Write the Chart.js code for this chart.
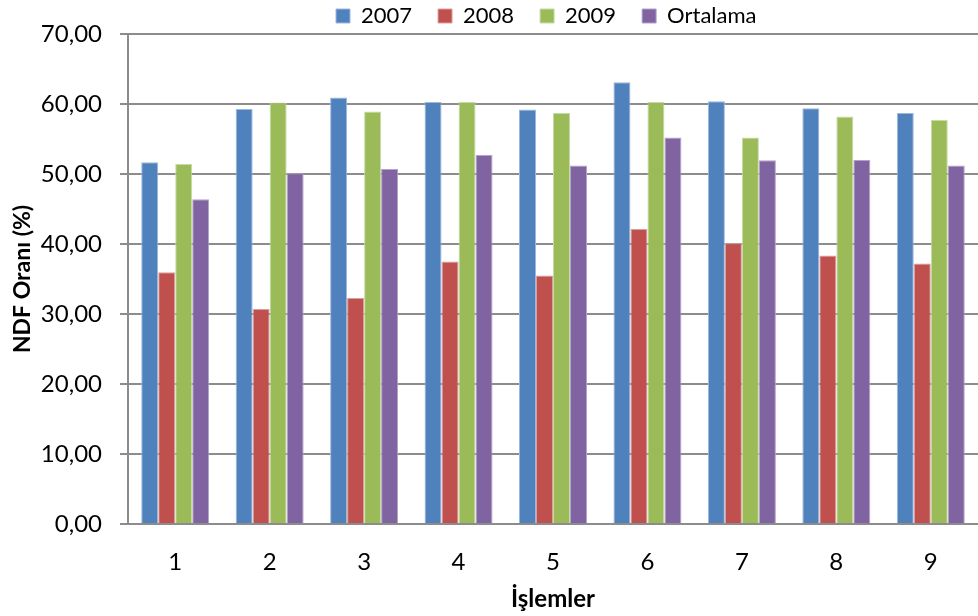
<!DOCTYPE html>
<html>
<head>
<meta charset="utf-8">
<script src="https://cdn.jsdelivr.net/npm/chart.js@4/dist/chart.umd.min.js"></script>
<style>
  html, body { margin: 0; padding: 0; background: #ffffff; }
  #wrap { width: 978px; height: 616px; }
</style>
</head>
<body>
<div id="wrap"><canvas id="c" width="978" height="616"></canvas></div>
<script>
// Treatments (işlemler) 1..9
const categories = ['1', '2', '3', '4', '5', '6', '7', '8', '9'];

// NDF ratio (%) per year and the mean
const ndf2007 = [51.67, 59.30, 60.94, 60.30, 59.20, 63.10, 60.40, 59.40, 58.70];
const ndf2008 = [35.98, 30.70, 32.27, 37.50, 35.50, 42.15, 40.10, 38.35, 37.20];
const ndf2009 = [51.43, 60.20, 58.94, 60.30, 58.70, 60.30, 55.20, 58.20, 57.70];
const ortalama = [46.39, 50.10, 50.71, 52.70, 51.20, 55.20, 51.95, 52.00, 51.20];

const seriesNames = ['2007', '2008', '2009', 'Ortalama'];
const yTicks = [0, 10, 20, 30, 40, 50, 60, 70];

const FONT = 'Lato, "Open Sans", "Liberation Sans", sans-serif';
const GRID = '#8c8c8c';

const fills = ['#4F81BD', '#C0504D', '#9BBB59', '#8064A2'];
const edges = ['#9db8dc', '#dba09e', '#c6dba4', '#b3a2c9'];

const seriesValues = [ndf2007, ndf2008, ndf2009, ortalama];

// Keeps the legend strip a fixed height and places it above the plot
const legendPlacement = {
  id: 'legendPlacement',
  beforeLayout(chart) {
    const lg = chart.legend;
    if (lg && !lg._fixedFit) {
      const fit = lg.fit.bind(lg);
      lg.fit = function () { fit(); this.height = 34; };
      lg._fixedFit = true;
    }
  },
  beforeDraw(chart) {
    const lg = chart.legend;
    if (!lg || !lg.lineWidths) return;
    const pad = lg.options.labels.padding;
    const lw = lg.lineWidths[0];
    const firstX = 336;
    const L = (2 * firstX - 978 - pad + lw) / 2;
    lg.left = L;
    lg.right = L + 978;
    lg.top = -21;
  }
};

new Chart(document.getElementById('c'), {
  type: 'bar',
  data: {
    labels: categories,
    datasets: seriesNames.map((name, i) => ({
      label: name,
      data: seriesValues[i],
      backgroundColor: fills[i],
      borderColor: edges[i],
      borderWidth: 1,
      categoryPercentage: 0.72,
      barPercentage: 1.0
    }))
  },
  options: {
    responsive: false,
    animation: false,
    devicePixelRatio: 1,
    layout: { padding: 0 },
    plugins: {
      legend: {
        position: 'top',
        labels: {
          boxWidth: 14,
          boxHeight: 14,
          padding: 26,
          color: '#000000',
          font: { family: FONT, size: 22 }
        }
      },
      tooltip: { enabled: false }
    },
    scales: {
      x: {
        offset: true,
        grid: { display: false, drawTicks: false },
        border: { display: false },
        ticks: {
          color: '#000000',
          padding: 24,
          font: { family: FONT, size: 24 }
        },
        title: {
          display: true,
          text: 'İşlemler',
          color: '#000000',
          padding: { top: 0, bottom: 2 },
          font: { family: FONT, size: 24, weight: 'bold' }
        },
        afterFit(scale) { scale.height = 92; }
      },
      y: {
        min: 0,
        max: 70,
        afterBuildTicks(scale) { scale.ticks = yTicks.map(v => ({ value: v })); },
        grid: {
          color: GRID,
          lineWidth: 2,
          drawTicks: true,
          tickLength: 8
        },
        border: { display: true, color: GRID, width: 2 },
        ticks: {
          color: '#000000',
          padding: 18,
          font: { family: FONT, size: 24 }
        ,
          callback: v => v.toFixed(2).replace('.', ',')
        },
        title: {
          display: true,
          text: 'NDF Oranı (%)',
          color: '#000000',
          padding: { top: 9, bottom: 0 },
          font: { family: FONT, size: 23, weight: 'bold' }
        },
        afterFit(scale) { scale.width = 128; }
      }
    }
  },
  plugins: [legendPlacement]
});
</script>
</body>
</html>
